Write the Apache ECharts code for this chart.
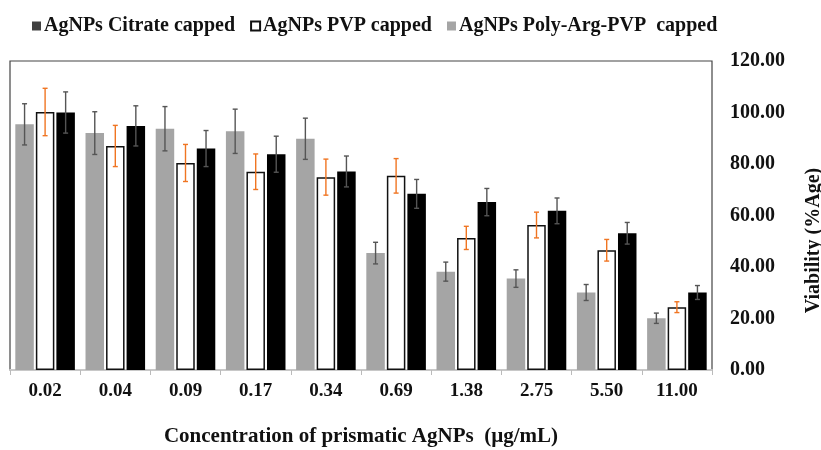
<!DOCTYPE html>
<html>
<head>
<meta charset="utf-8">
<script src="https://cdn.jsdelivr.net/npm/echarts@6/dist/echarts.min.js"></script>
<style>
  html, body { margin: 0; padding: 0; background: #fff; }
  #main { width: 821px; height: 450px; }
</style>
</head>
<body>
<div id="main"></div>
<script>
var categories = ['0.02', '0.04', '0.09', '0.17', '0.34', '0.69', '1.38', '2.75', '5.50', '11.00'];

var polyArg = [95.4, 92.0, 93.7, 92.7, 89.8, 45.4, 38.2, 35.5, 30.1, 20.1];
var polyArgErr = [8.0, 8.3, 8.6, 8.6, 8.0, 4.2, 3.7, 3.4, 3.1, 2.0];

var pvp = [100.2, 87.0, 80.4, 77.0, 74.9, 75.4, 51.3, 56.3, 46.5, 24.4];
var pvpErr = [9.2, 8.0, 7.2, 6.9, 7.0, 6.7, 4.5, 5.0, 4.2, 2.1];

var citrate = [100.0, 94.8, 86.0, 83.8, 77.1, 68.4, 65.2, 61.8, 53.1, 30.1];
var citrateErr = [8.0, 7.8, 7.0, 7.0, 6.0, 5.6, 5.3, 5.0, 4.2, 2.7];

var yTicks = [0, 20, 40, 60, 80, 100, 120];

var FONT = 'Liberation Serif';
var BAR_W = 18.5;
var BAR_GAP = 0.11;

var myChart = echarts.init(document.getElementById('main'));

function errData(vals, errs) {
  return vals.map(function (v, i) {
    return [i, v, errs[i]];
  });
}

function errSeries(name, vals, errs, slot, color) {
  return {
    type: 'custom',
    name: name + ' err',
    z: 5,
    silent: true,
    encode: { x: 0, y: 1 },
    data: errData(vals, errs),
    renderItem: function (params, api) {
      var i = api.value(0), v = api.value(1), e = api.value(2);
      var top = api.coord([i, v + e]);
      var bot = api.coord([i, v - e]);
      var x = top[0] + (slot - 1) * BAR_W * (1 + BAR_GAP);
      var cap = 2.5;
      var style = { stroke: color, lineWidth: 1.4 };
      return {
        type: 'group',
        children: [
          { type: 'line', shape: { x1: x, y1: top[1], x2: x, y2: bot[1] }, style: style },
          { type: 'line', shape: { x1: x - cap, y1: top[1], x2: x + cap, y2: top[1] }, style: style },
          { type: 'line', shape: { x1: x - cap, y1: bot[1], x2: x + cap, y2: bot[1] }, style: style }
        ]
      };
    }
  };
}

var option = {
  backgroundColor: '#fff',
  animation: false,
  textStyle: { fontFamily: FONT },
  legend: {
    left: 27,
    top: 11,
    itemWidth: 9,
    itemHeight: 9,
    itemGap: 15,
    icon: 'rect',
    data: [
      { name: 'AgNPs Citrate capped', itemStyle: { color: '#404040' } },
      { name: 'AgNPs PVP capped' },
      { name: 'AgNPs Poly-Arg-PVP  capped' }
    ],
    textStyle: { fontFamily: FONT, fontWeight: 'bold', fontSize: 20, color: '#111', padding: [0, 0, 0, -2] }
  },
  grid: {
    left: 10,
    right: 109,
    top: 61,
    bottom: 80,
    outerBoundsMode: 'none',
    show: true,
    borderColor: '#444',
    borderWidth: 1.2
  },
  xAxis: {
    type: 'category',
    data: categories,
    name: 'Concentration of prismatic AgNPs  (\u00b5g/mL)',
    nameLocation: 'middle',
    nameGap: 56,
    nameTextStyle: { fontFamily: FONT, fontWeight: 'bold', fontSize: 21, color: '#111' },
    axisLine: { lineStyle: { color: '#c8c8c8', width: 2 } },
    axisTick: { show: true, length: 5, lineStyle: { color: '#bbb' } },
    axisLabel: { fontFamily: FONT, fontWeight: 'bold', fontSize: 19, color: '#111', margin: 12 }
  },
  yAxis: {
    type: 'value',
    position: 'right',
    min: 0,
    max: yTicks[yTicks.length - 1],
    interval: yTicks[1] - yTicks[0],
    name: 'Viability (%Age)',
    nameLocation: 'middle',
    nameGap: 92,
    nameTextStyle: { fontFamily: FONT, fontWeight: 'bold', fontSize: 20, color: '#111', padding: [0, 50, 0, 0] },
    axisLine: { show: false },
    axisTick: { show: false },
    splitLine: { show: false },
    axisLabel: {
      fontFamily: FONT, fontWeight: 'bold', fontSize: 20, color: '#111', margin: 18,
      formatter: function (v) { return v.toFixed(2); }
    }
  },
  series: [
    {
      type: 'bar',
      name: 'AgNPs Poly-Arg-PVP  capped',
      data: polyArg,
      barWidth: BAR_W,
      barGap: (BAR_GAP * 100) + '%',
      itemStyle: { color: '#a5a5a5' }
    },
    {
      type: 'bar',
      name: 'AgNPs PVP capped',
      data: pvp,
      barWidth: BAR_W,
      barGap: (BAR_GAP * 100) + '%',
      itemStyle: { color: '#ffffff', borderColor: '#111', borderWidth: 1.5 }
    },
    {
      type: 'bar',
      name: 'AgNPs Citrate capped',
      data: citrate,
      barWidth: BAR_W,
      barGap: (BAR_GAP * 100) + '%',
      itemStyle: { color: '#000000' }
    },
    errSeries('polyArg', polyArg, polyArgErr, 0, '#555'),
    errSeries('pvp', pvp, pvpErr, 1, '#f07522'),
    errSeries('citrate', citrate, citrateErr, 2, '#555')
  ]
};

myChart.setOption(option);
</script>
</body>
</html>
